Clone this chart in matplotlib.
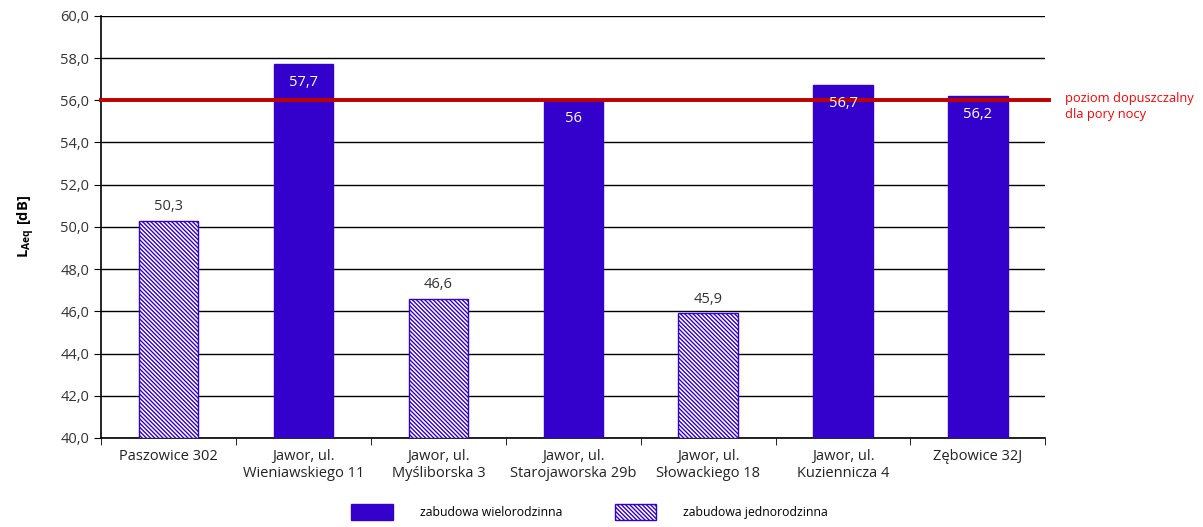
import numpy as np
import matplotlib.pyplot as plt
from matplotlib.patches import Patch

plt.rcParams['font.family'] = ['Open Sans', 'DejaVu Sans']
plt.rcParams['mathtext.fontset'] = 'custom'
plt.rcParams['mathtext.rm'] = 'Open Sans'
plt.rcParams['mathtext.bf'] = 'Open Sans:bold'
plt.rcParams['hatch.linewidth'] = 1.0

# Data
categories = ["Paszowice 302", "Jawor, ul.\nWieniawskiego 11", "Jawor, ul.\nMyśliborska 3",
              "Jawor, ul.\nStarojaworska 29b", "Jawor, ul.\nSłowackiego 18",
              "Jawor, ul.\nKuziennicza 4", "Zębowice 32J"]
values = [50.3, 57.7, 46.6, 56.0, 45.9, 56.7, 56.2]
value_labels = ["50,3", "57,7", "46,6", "56", "45,9", "56,7", "56,2"]
multi_family = [False, True, False, True, False, True, True]
limit = 56.0
y_ticks = [40, 42, 44, 46, 48, 50, 52, 54, 56, 58, 60]

blue = '#3300CC'
red_line = '#C00000'
hatch = '\\' * 8

fig = plt.figure(figsize=(12.03, 5.27), dpi=100)
ax = fig.add_axes([0.084, 0.169, 0.785, 0.801])

x = np.arange(len(categories))
for xi, v, lab, mf in zip(x, values, value_labels, multi_family):
    if mf:
        ax.bar(xi, v - 40, bottom=40, width=0.44, color=blue, edgecolor=blue, zorder=3)
        ax.text(xi, v - 0.5, lab, ha='center', va='top', color='white', fontsize=10.5, zorder=5)
    else:
        ax.bar(xi, v - 40, bottom=40, width=0.44, color='white', edgecolor=blue,
               hatch=hatch, linewidth=1, zorder=3)
        ax.text(xi, v + 0.3, lab, ha='center', va='bottom', color='#333333', fontsize=10.5, zorder=5)

ax.plot([-0.5, 6.53], [limit, limit], color=red_line, lw=2.8, zorder=4, clip_on=False)
ax.text(1.021, 0.785, "poziom dopuszczalny\ndla pory nocy", transform=ax.transAxes,
        color='#FF0000', fontsize=9.3, va='center', ha='left', linespacing=1.25)

ax.set_xlim(-0.5, 6.5)
ax.set_ylim(40, 60)
ax.set_yticks(y_ticks)
ax.set_yticklabels([f"{t:.1f}".replace('.', ',') for t in y_ticks], fontsize=10.5, color='#333333')
ax.yaxis.grid(True, color='black', lw=1, zorder=0)
ax.set_axisbelow(True)

ax.set_xticks(x)
ax.set_xticklabels(categories, fontsize=10.5, color='#222222')
ax.tick_params(axis='x', length=0, pad=8)
ax.set_xticks(np.arange(-0.5, 7, 1), minor=True)
ax.tick_params(axis='x', which='minor', length=5, direction='out', color='black')
ax.tick_params(axis='y', length=5, direction='out', color='black')

for s in ['top', 'right']:
    ax.spines[s].set_visible(False)
ax.spines['left'].set_color('black')
ax.spines['bottom'].set_color('black')
ax.spines['left'].set_linewidth(1.2)
ax.spines['bottom'].set_linewidth(1.2)

ax.set_ylabel(r'$\mathbf{L_{Aeq}\ [dB]}$', fontsize=10.5, labelpad=17)

handles = [Patch(facecolor=blue, edgecolor=blue),
           Patch(facecolor='white', edgecolor=blue, hatch=hatch)]
fig.legend(handles, ["zabudowa wielorodzinna", "zabudowa jednorodzinna"],
           loc='center', bbox_to_anchor=(0.49, 0.028), ncol=2, frameon=False,
           fontsize=8.8, handlelength=3.4, handleheight=1.6, handletextpad=2.2,
           columnspacing=4.3)

fig.savefig("out.png", dpi=100)
